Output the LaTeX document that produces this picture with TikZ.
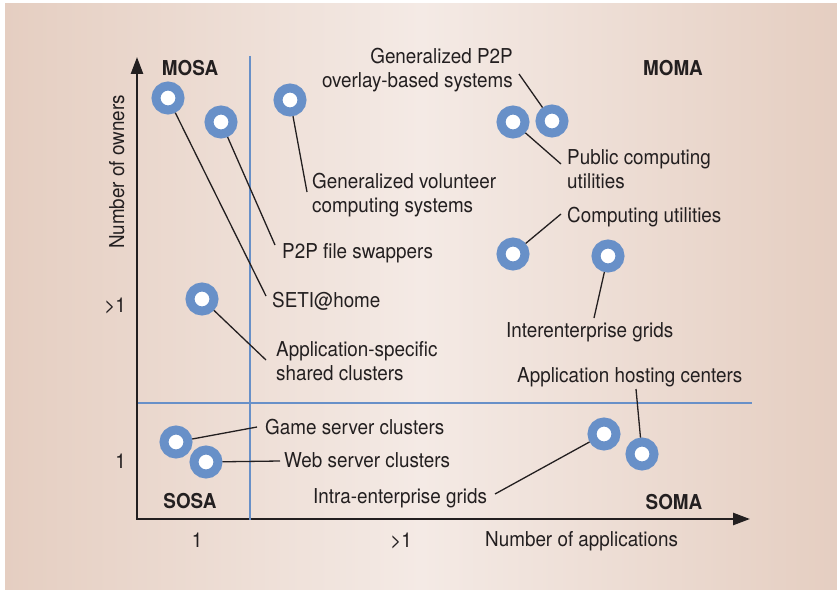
\documentclass[tikz,border=0pt]{standalone}
\usepackage{fontspec}
\setmainfont{TeX Gyre Heros}[FakeStretch=0.92]
\usetikzlibrary{arrows.meta}
\definecolor{bgedge}{HTML}{E5CEC1}
\definecolor{bgmid}{HTML}{F4EAE5}
\definecolor{mblue}{HTML}{6890C8}
\definecolor{ink}{HTML}{231F20}
\tikzset{
  marker/.style={circle, draw=mblue, fill=white, line width=9pt, minimum size=24pt, inner sep=0pt},
  conn/.style={draw=ink, line width=1.3pt},
  lbl/.style={font=\fontsize{20.5}{24}\selectfont, text=ink, inner sep=0pt, align=left},
  quad/.style={font=\bfseries\fontsize{20.5}{24}\selectfont, text=ink, inner sep=0pt, anchor=base},
  axis/.style={draw=ink, line width=2.5pt, {Triangle[length=17pt,width=12pt]}-{Triangle[length=17pt,width=12pt]}},
  divider/.style={draw=mblue, line width=2.3pt},
}
\begin{document}
\begin{tikzpicture}[x=1pt,y=-1pt]
\useasboundingbox (0,0) rectangle (837,591);
\shade[left color=bgedge, right color=bgedge, middle color=bgmid, shading=axis] (5,4) rectangle (837,589);

% axes
\coordinate (ytip) at (137,57);
\coordinate (origin) at (137,519);
\coordinate (xtip) at (750,519);
\draw[axis] (ytip) -- (origin) -- (xtip);

% dividers
\coordinate (vtop) at (250,56);
\coordinate (vbot) at (250,520);
\coordinate (hl) at (138,403);
\coordinate (hr) at (752,403);
\draw[divider] (vtop) -- (vbot);
\draw[divider] (hl) -- (hr);

% quadrant labels
\node[quad] (mosa) at (190,76) {MOSA};
\node[quad] (moma) at (673,76) {MOMA};
\node[quad] (sosa) at (190,508) {SOSA};
\node[quad] (soma) at (674,509) {SOMA};

% axis labels
\node[lbl, rotate=90, anchor=base] (yaxlbl) at (124,172) {Number of owners};
\node[lbl, anchor=base east] (ymany) at (126,312) {>1};
\node[lbl, anchor=base east] (yone) at (126,468) {1};
\node[lbl, anchor=base] (xone) at (197,547) {1};
\node[lbl, anchor=base] (xmany) at (401,547) {>1};
\node[lbl, anchor=base west] (xaxlbl) at (485,546) {Number of applications};

% markers
\node[marker] (m1) at (168,98) {};
\node[marker] (m2) at (221,122) {};
\node[marker] (m3) at (290,100) {};
\node[marker] (m4) at (513,122) {};
\node[marker] (m5) at (552,121) {};
\node[marker] (m6) at (513,254) {};
\node[marker] (m7) at (608,256) {};
\node[marker] (m8) at (202,299) {};
\node[marker] (m9) at (176,442) {};
\node[marker] (m10) at (206,462) {};
\node[marker] (m11) at (604,434) {};
\node[marker] (m12) at (642,454) {};

% labels
\node[lbl, align=right, anchor=north east] (t5) at (513,48) {Generalized P2P\\overlay-based systems};
\node[lbl, anchor=north west] (t4) at (567,149) {Public computing\\utilities};
\node[lbl, anchor=north west] (t3) at (312,173) {Generalized volunteer\\computing systems};
\node[lbl, anchor=base west] (t2) at (282,258) {P2P file swappers};
\node[lbl, anchor=base west] (t6) at (567,222) {Computing utilities};
\node[lbl, anchor=base west] (t1) at (272,307) {SETI@home};
\node[lbl, anchor=base west] (t7) at (506,337) {Interenterprise grids};
\node[lbl, anchor=north west] (t8) at (276,341) {Application-specific\\shared clusters};
\node[lbl, anchor=base west] (t12) at (517,382) {Application hosting centers};
\node[lbl, anchor=base west] (t9) at (265,434) {Game server clusters};
\node[lbl, anchor=base west] (t10) at (284,467) {Web server clusters};
\node[lbl, anchor=base west] (t11) at (313,503) {Intra-enterprise grids};

% connector ends
\coordinate (e1) at (266,296);
\coordinate (e2) at (275,245);
\coordinate (e3) at (307,192);
\coordinate (e4) at (561,164);
\coordinate (e5) at (519,74);
\coordinate (e6) at (561,214);
\coordinate (e7) at (594,318);
\coordinate (e8) at (266,360);
\coordinate (e9) at (257,427);
\coordinate (e10) at (280,461);
\coordinate (e11) at (495,494);
\coordinate (e12) at (636,389);

\draw[conn] (m1) -- (e1);
\draw[conn] (m2) -- (e2);
\draw[conn] (m3) -- (e3);
\draw[conn] (m4) -- (e4);
\draw[conn] (m5) -- (e5);
\draw[conn] (m6) -- (e6);
\draw[conn] (m7) -- (e7);
\draw[conn] (m8) -- (e8);
\draw[conn] (m9) -- (e9);
\draw[conn] (m10) -- (e10);
\draw[conn] (m11) -- (e11);
\draw[conn] (m12) -- (e12);
\end{tikzpicture}
\end{document}
